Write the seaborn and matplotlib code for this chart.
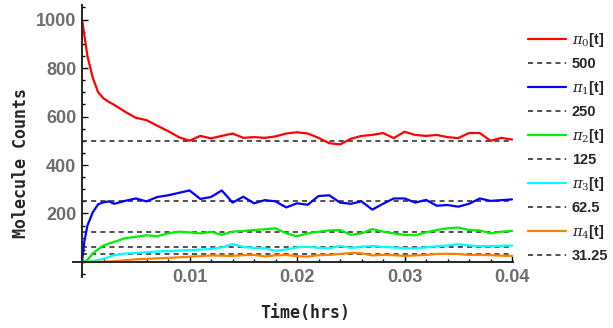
import pandas as pd
import seaborn as sns
import matplotlib.pyplot as plt
from matplotlib.lines import Line2D
from matplotlib.ticker import MultipleLocator

# time grid (hrs)
time = [0, 0.0002, 0.0005, 0.001, 0.0015, 0.002, 0.0025, 0.003,
        0.004, 0.005, 0.006, 0.007, 0.008, 0.009, 0.010, 0.011, 0.012,
        0.013, 0.014, 0.015, 0.016, 0.017, 0.018, 0.019, 0.020, 0.021,
        0.022, 0.023, 0.024, 0.025, 0.026, 0.027, 0.028, 0.029, 0.030,
        0.031, 0.032, 0.033, 0.034, 0.035, 0.036, 0.037, 0.038, 0.039, 0.040]

pi0 = [1000, 940, 850, 760, 700, 675, 660, 648,
       620, 595, 585, 562, 540, 515, 500, 520, 510,
       520, 530, 512, 515, 512, 518, 530, 535, 530,
       512, 490, 485, 508, 520, 524, 532, 511, 537,
       524, 520, 524, 515, 511, 532, 532, 500, 512, 505]

pi1 = [0, 80, 150, 205, 238, 246, 250, 240,
       252, 262, 250, 268, 275, 285, 295, 260, 268,
       295, 245, 269, 242, 255, 250, 225, 242, 236,
       272, 275, 245, 240, 250, 216, 240, 262, 262,
       245, 256, 232, 235, 228, 240, 262, 252, 255, 258]

pi2 = [0, 2, 8, 35, 52, 68, 76, 83,
       98, 104, 110, 106, 118, 125, 122, 118, 124,
       112, 125, 128, 132, 135, 139, 118, 106, 118,
       125, 130, 132, 112, 118, 136, 125, 118, 112,
       110, 122, 132, 139, 142, 132, 130, 118, 125, 128]

pi3 = [0, 0, 1, 4, 8, 13, 20, 28,
       35, 37, 40, 43, 45, 47, 49, 51, 54,
       60, 74, 62, 58, 56, 46, 52, 60, 63,
       58, 56, 66, 58, 63, 66, 62, 60, 57,
       56, 60, 65, 68, 73, 68, 65, 65, 67, 68]

pi4 = [0, 0, 0, 0, 1, 1, 2, 3,
       7, 11, 13, 15, 17, 19, 22, 24, 27,
       26, 25, 28, 29, 23, 27, 29, 24, 22,
       28, 29, 33, 37, 36, 27, 29, 28, 25,
       27, 29, 33, 34, 33, 29, 29, 28, 26, 25]

levels = [500, 250, 125, 62.5, 31.25]
level_labels = ["500", "250", "125", "62.5", "31.25"]
series_names = ["pi0", "pi1", "pi2", "pi3", "pi4"]
series_labels = [r"$\pi_0$[t]", r"$\pi_1$[t]", r"$\pi_2$[t]", r"$\pi_3$[t]", r"$\pi_4$[t]"]
colors = ["#ff0000", "#0000ff", "#00ee00", "#00ffff", "#ff8000"]

df = pd.DataFrame({"t": time, "pi0": pi0, "pi1": pi1, "pi2": pi2,
                   "pi3": pi3, "pi4": pi4})
long = df.melt(id_vars="t", var_name="series", value_name="count")

sns.set_style("white")
plt.rcParams["font.family"] = ["Liberation Sans", "DejaVu Sans"]
plt.rcParams["mathtext.fontset"] = "dejavuserif"

fig = plt.figure(figsize=(6.13, 3.28), dpi=100)
ax = fig.add_axes([73 / 613, 51 / 328, 440 / 613, 272 / 328])

# dashed reference levels
ax.hlines(levels, 0, 0.04, colors="#333333", linestyles=(0, (3, 2.5)), linewidth=1.2, zorder=1)

sns.lineplot(data=long, x="t", y="count", hue="series", hue_order=series_names,
             palette=colors, linewidth=1.6, legend=False, ax=ax, zorder=2)

ax.set_xlim(-0.00084, 0.04009)
ax.set_ylim(-62, 1060)

for s in ["top", "right"]:
    ax.spines[s].set_visible(False)
ax.spines["left"].set_position(("data", 0))
ax.spines["bottom"].set_position(("data", 0))
ax.spines["left"].set_linewidth(1.4)
ax.spines["bottom"].set_linewidth(1.4)

ax.set_xticks([0.01, 0.02, 0.03, 0.04])
ax.set_xticklabels(["0.01", "0.02", "0.03", "0.04"])
ax.set_yticks([200, 400, 600, 800, 1000])
ax.xaxis.set_minor_locator(MultipleLocator(0.002))
ax.yaxis.set_minor_locator(MultipleLocator(50))
ax.tick_params(which="both", direction="in", color="black", width=1)
ax.tick_params(which="major", length=4.5)
ax.tick_params(which="minor", length=2.5)
ax.tick_params(axis="y", which="both", left=True, pad=4)
ax.tick_params(axis="x", which="both", bottom=True, pad=5)
for lab in ax.get_xticklabels() + ax.get_yticklabels():
    lab.set_fontsize(13)
    lab.set_fontweight("bold")
    lab.set_color("#6e6e6e")

ax.set_xlabel("Time(hrs)", fontsize=12, fontweight="bold", family="DejaVu Sans Mono")
ax.set_ylabel("Molecule Counts", fontsize=12, fontweight="bold", family="DejaVu Sans Mono")
ax.xaxis.set_label_coords(0.527, -0.10)
ax.yaxis.set_label_coords(-0.098, 0.42)

handles = []
labels = []
for lab, c, lv in zip(series_labels, colors, level_labels):
    handles.append(Line2D([], [], color=c, linewidth=1.6))
    labels.append(lab)
    handles.append(Line2D([], [], color="#333333", linestyle=(0, (3, 2.5)), linewidth=1.2))
    labels.append(lv)
leg = fig.legend(handles, labels, loc="upper left", bbox_to_anchor=(528 / 613, 1 - 31 / 328),
                 frameon=False, handlelength=2.6, handletextpad=0.4, borderpad=0,
                 borderaxespad=0, labelspacing=0.55, prop={"size": 10.5, "weight": "bold"})

fig.savefig("out.png", dpi=100)
